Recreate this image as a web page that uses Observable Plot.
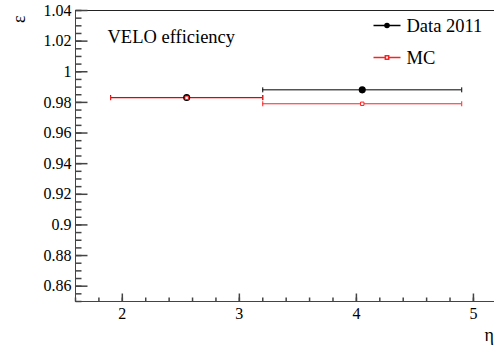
<!DOCTYPE html>
<html><head><meta charset="utf-8">
<script src="https://cdn.jsdelivr.net/npm/d3@7"></script>
<script src="https://cdn.jsdelivr.net/npm/@observablehq/plot@0.6"></script>
<style>
body{margin:0;background:#fff;overflow:hidden}
svg, svg text, svg g { font-family: "Times New Roman", "Liberation Serif", "DejaVu Serif", serif !important; }
</style>
</head><body><div id="chart"></div>
<script>
// Data
const binLow = [1.9, 3.2];
const binHigh = [3.2, 4.9];
const binCenter = [2.55, 4.05];
const dataEff = [0.9832, 0.9882];
const mcEff = [0.9830, 0.9791];
const yTickValues = [0.86, 0.88, 0.90, 0.92, 0.94, 0.96, 0.98, 1.00, 1.02, 1.04];
const xTickValues = [2, 3, 4, 5];
const xDomain = [1.6, 5.18];
const yDomain = [0.85, 1.04];
const legendLabels = ["Data 2011", "MC"];
const titleText = "VELO efficiency";

const dataRows = binCenter.map((c, i) => ({c, lo: binLow[i], hi: binHigh[i], v: dataEff[i]}));
const mcRows = binCenter.map((c, i) => ({c, lo: binLow[i], hi: binHigh[i], v: mcEff[i]}));

const yMinor = d3.range(0, 39).map(i => +(0.85 + i * 0.005).toFixed(3)).filter(v => v <= 1.04);
const xMinor = d3.range(0, 18).map(i => +(1.6 + i * 0.2).toFixed(1)).filter(v => v <= 5.18);

const seg = (dx, dy) => ({draw(ctx) { ctx.moveTo(0, 0); ctx.lineTo(dx, dy); }});
const cseg = (a) => ({draw(ctx) { ctx.moveTo(0, -a); ctx.lineTo(0, a); }});
const hseg = (a) => ({draw(ctx) { ctx.moveTo(-a, 0); ctx.lineTo(a, 0); }});
const axisColor = "#444";
const red = "#ff2020";
const serif = "'Times New Roman', 'Liberation Serif', 'DejaVu Serif', serif";

function bars(rows, color, width) {
  return [
    Plot.ruleY(rows, {y: "v", x1: "lo", x2: "hi", stroke: color, strokeWidth: width}),
    Plot.dot(rows, {x: "lo", y: "v", symbol: cseg(2.5), stroke: color, fill: "none", strokeWidth: 1}),
    Plot.dot(rows, {x: "hi", y: "v", symbol: cseg(2.5), stroke: color, fill: "none", strokeWidth: 1})
  ];
}

const chart = Plot.plot({
  width: 494,
  height: 347,
  marginLeft: 75,
  marginRight: 0,
  marginTop: 10,
  marginBottom: 46,
  style: {fontFamily: serif, fontSize: "16px", color: "#000", background: "white"},
  x: {domain: xDomain},
  y: {domain: yDomain},
  marks: [
    // frame lines
    Plot.ruleX([xDomain[0]], {stroke: axisColor}),
    Plot.ruleY([yDomain[0]], {stroke: axisColor}),
    Plot.ruleY([yDomain[1]], {stroke: "#222"}),
    // inward ticks
    Plot.dot(yTickValues, {x: xDomain[0], y: d => d, symbol: seg(12, 0), stroke: axisColor, fill: "none"}),
    Plot.dot(yMinor, {x: xDomain[0], y: d => d, symbol: seg(6, 0), stroke: axisColor, fill: "none"}),
    Plot.dot(xTickValues, {x: d => d, y: yDomain[0], symbol: seg(0, -8), stroke: axisColor, fill: "none"}),
    Plot.dot(xMinor, {x: d => d, y: yDomain[0], symbol: seg(0, -4), stroke: axisColor, fill: "none"}),
    // tick labels
    Plot.axisY({ticks: yTickValues, tickSize: 0, tickPadding: 4, label: null, fontSize: 16, fontFamily: serif,
      tickFormat: d => String(+d.toFixed(2))}),
    Plot.axisX({ticks: xTickValues, tickSize: 0, tickPadding: 6, label: null, fontSize: 16, fontFamily: serif,
      tickFormat: d => String(d)}),
    // error bars
    ...bars(dataRows, "#000", 1),
    ...bars(mcRows, red, 1),
    Plot.dot(dataRows, {x: "c", y: "v", r: 2.8, fill: "#000", stroke: "#000"}),
    Plot.dot(mcRows, {x: "c", y: "v", symbol: "square", r: 1.9, fill: "white", stroke: red, strokeWidth: 1}),
    // title
    Plot.text([titleText], {frameAnchor: "top-left", dx: 32, dy: 27, text: d => d, textAnchor: "start", lineAnchor: "middle", fontSize: 18.5, fontFamily: serif}),
    // legend
    Plot.dot([0], {frameAnchor: "top-left", dx: 311.5, dy: 15, symbol: hseg(13.5), stroke: "#000", fill: "none"}),
    Plot.dot([0], {frameAnchor: "top-left", dx: 311.5, dy: 15, r: 2.8, fill: "#000"}),
    Plot.dot([0], {frameAnchor: "top-left", dx: 311.5, dy: 47, symbol: hseg(13.5), stroke: red, fill: "none"}),
    Plot.dot([0], {frameAnchor: "top-left", dx: 311.5, dy: 47, symbol: "square", r: 1.9, fill: "white", stroke: red}),
    Plot.text([legendLabels[0]], {frameAnchor: "top-left", dx: 331, dy: 16, text: d => d, textAnchor: "start", lineAnchor: "middle", fontSize: 18.5, fontFamily: serif}),
    Plot.text([legendLabels[1]], {frameAnchor: "top-left", dx: 331, dy: 48, text: d => d, textAnchor: "start", lineAnchor: "middle", fontSize: 18.5, fontFamily: serif}),
    // axis titles
    Plot.text(["ε"], {frameAnchor: "top-left", dx: -56, dy: 5, text: d => d, rotate: -90, textAnchor: "end", lineAnchor: "middle", fontSize: 18, fontFamily: serif}),
    Plot.text(["η"], {frameAnchor: "bottom-right", dx: -10, dy: 34, text: d => d, textAnchor: "start", lineAnchor: "middle", fontSize: 18, fontFamily: serif})
  ]
});
document.getElementById("chart").append(chart);
</script>
</body></html>
